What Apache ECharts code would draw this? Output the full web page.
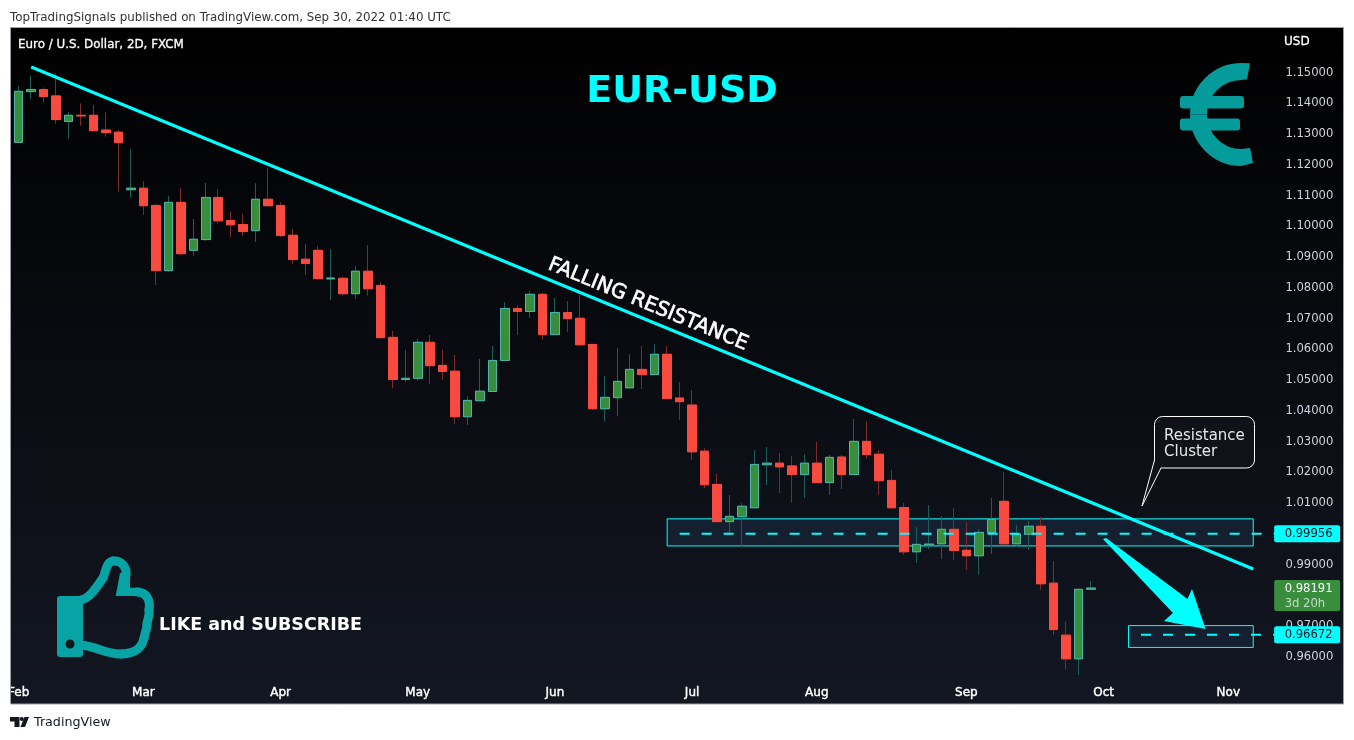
<!DOCTYPE html>
<html><head><meta charset="utf-8">
<style>html,body{margin:0;padding:0;background:#fff}#c{width:1354px;height:740px}</style>
<script src="https://cdn.jsdelivr.net/npm/echarts@6/dist/echarts.min.js"></script>
</head><body><div id="c"></div>
<script>
const categories = [
'Feb','Feb 3','Feb 7','Feb 9','Feb 11','Feb 15','Feb 17','Feb 21','Feb 23','Feb 25',
'Mar','Mar 3','Mar 7','Mar 9','Mar 11','Mar 15','Mar 17','Mar 21','Mar 23','Mar 25','Mar 29',
'Apr','Apr 5','Apr 7','Apr 11','Apr 13','Apr 15','Apr 19','Apr 21','Apr 25','Apr 27','Apr 29',
'May','May 5','May 9','May 11','May 13','May 17','May 19','May 23','May 25','May 27','May 31',
'Jun','Jun 6','Jun 8','Jun 10','Jun 14','Jun 16','Jun 20','Jun 22','Jun 24','Jun 28','Jun 30',
'Jul','Jul 6','Jul 8','Jul 12','Jul 14','Jul 18','Jul 20','Jul 22','Jul 26','Jul 28',
'Aug','Aug 3','Aug 5','Aug 9','Aug 11','Aug 15','Aug 17','Aug 19','Aug 23','Aug 25','Aug 29','Aug 31',
'Sep','Sep 6','Sep 8','Sep 12','Sep 14','Sep 16','Sep 20','Sep 22','Sep 26','Sep 28','Sep 30',
'Oct','Oct 5','Oct 7','Oct 11','Oct 13','Oct 17','Oct 19','Oct 21','Oct 25','Oct 27',
'Nov','Nov 3','Nov 7','Nov 9','Nov 11'];
const opens = [1.1268,1.1433,1.1440,1.1419,1.1336,1.1356,1.1356,1.1308,1.1301,1.1114,
1.1119,1.1063,1.0851,1.1073,1.0917,1.0952,1.1089,1.1014,1.1001,1.0981,
1.1083,1.1063,1.0966,1.0888,1.0917,1.0824,1.0826,1.0776,1.0849,1.0803,
1.0634,1.0497,1.0501,1.0618,1.0543,1.0524,1.0376,1.0428,1.0458,1.0559,
1.0728,1.0718,1.0774,1.0643,1.0715,1.0696,1.0611,1.0402,1.0438,1.0470,
1.0530,1.0513,1.0579,1.0437,1.0414,1.0264,1.0156,1.0035,1.0051,1.0080,
1.0220,1.0225,1.0216,1.0188,1.0225,1.0162,1.0245,1.0188,1.0296,1.0254,
1.0169,1.0081,0.9937,0.9959,0.9963,1.0010,0.9942,0.9924,1.0000,1.0101,
0.9963,0.9994,1.0020,0.9835,0.9666,0.9589,0.9815];
const closes = [1.1434,1.1440,1.1417,1.1342,1.1356,1.1354,1.1306,1.1300,1.1267,1.1119,
1.1062,1.0851,1.1073,1.0906,1.0953,1.1089,1.1013,1.1000,1.0978,1.1083,
1.1062,1.0965,1.0887,1.0874,1.0825,1.0827,1.0776,1.0849,1.0792,1.0633,
1.0497,1.0501,1.0618,1.0542,1.0523,1.0376,1.0429,1.0459,1.0559,1.0728,
1.0718,1.0774,1.0643,1.0715,1.0695,1.0610,1.0402,1.0439,1.0491,1.0530,
1.0513,1.0579,1.0435,1.0425,1.0262,1.0155,1.0035,1.0052,1.0085,1.0221,
1.0225,1.0213,1.0188,1.0225,1.0162,1.0244,1.0188,1.0296,1.0253,1.0168,
1.0080,0.9937,0.9961,0.9962,1.0010,0.9941,0.9924,1.0000,1.0042,0.9963,
0.9995,1.0020,0.9833,0.9684,0.9589,0.9815,0.98191];
const lows = [1.1268,1.1409,1.1397,1.1328,1.1280,1.1321,1.1306,1.1287,1.1108,1.1088,
1.1032,1.0804,1.0848,1.0902,1.0899,1.0948,1.1003,1.0960,1.0964,1.0944,
1.1062,1.0960,1.0873,1.0837,1.0822,1.0756,1.0770,1.0759,1.0770,1.0633,
1.0469,1.0489,1.0493,1.0482,1.0495,1.0352,1.0349,1.0428,1.0458,1.0559,
1.0642,1.0697,1.0626,1.0643,1.0652,1.0610,1.0398,1.0360,1.0378,1.0470,
1.0466,1.0513,1.0435,1.0365,1.0235,1.0144,1.0035,0.9997,0.9954,1.0080,
1.0154,1.0128,1.0096,1.0112,1.0162,1.0122,1.0141,1.0188,1.0239,1.0122,
1.0080,0.9927,0.9901,0.9946,0.9913,0.9910,0.9878,0.9861,0.9930,0.9963,
0.9956,0.9943,0.9813,0.9666,0.9553,0.9536,0.9815];
const highs = [1.1451,1.1484,1.1447,1.1492,1.1367,1.1395,1.1390,1.1367,1.1308,1.1245,
1.1142,1.1067,1.1094,1.1120,1.1019,1.1136,1.1116,1.1044,1.1035,1.1135,
1.1186,1.1073,1.0986,1.0938,1.0931,1.0921,1.0831,1.0866,1.0934,1.0814,
1.0655,1.0593,1.0629,1.0642,1.0593,1.0577,1.0443,1.0564,1.0606,1.0749,
1.0739,1.0785,1.0779,1.0762,1.0752,1.0772,1.0611,1.0508,1.0600,1.0580,
1.0606,1.0612,1.0606,1.0489,1.0463,1.0274,1.0190,1.0122,1.0095,1.0268,
1.0278,1.0258,1.0248,1.0255,1.0294,1.0252,1.0252,1.0369,1.0362,1.0268,
1.0203,1.0096,1.0018,1.0089,1.0053,1.0079,1.0034,1.0011,1.0112,1.0196,
1.0024,1.0037,1.0050,0.9907,0.9709,0.9815,0.9842];
const yTicks = [1.15,1.14,1.13,1.12,1.11,1.10,1.09,1.08,1.07,1.06,1.05,1.04,1.03,1.02,1.01,1.00,0.99,0.98,0.97,0.96];
const trendLine = [[1,1.1513],[99,0.9881]];
const zoneUpper = [52,99,1.0044,0.9956];
const zoneLower = [89,99,0.9697,0.9626];
const levelUpper = 0.99956, levelLower = 0.96672, lastPrice = 0.98191;

const wickData = opens.map((o,i)=>[o,closes[i],lows[i],highs[i]]);
const bodyData = opens.map((o,i)=>[o,closes[i],Math.min(o,closes[i]),Math.max(o,closes[i])]);
const CY='#00ffff', TEAL='#07a3a5', EURO='#049b9a';
const sans='"DejaVu Sans",sans-serif';

function zoneSeries(z){return {type:'line',data:[],silent:true,z:1,
  markArea:{silent:true,itemStyle:{color:'#141f30',opacity:1,borderColor:CY,borderWidth:1},
    data:[[{xAxis:categories[z[0]],yAxis:z[2]},{xAxis:categories[z[1]],yAxis:z[3]}]]}};}
function levelSeries(v,fromIdx){return {type:'line',silent:true,z:6,symbol:'none',
  data:[[fromIdx,v],[101,v]],lineStyle:{color:CY,width:2,type:[10,12]},
  endLabel:{show:true,formatter:()=>v.toFixed(5),color:'#0c1320',backgroundColor:CY,fontFamily:sans,fontSize:11.6,
    padding:[3,7.5,2,10.5],distance:-4,borderRadius:2}};}
function curves(segs,color,width,cap){return segs.map(s=>({type:'bezierCurve',z:20,
  shape:{x1:s[0],y1:s[1],cpx1:s[2],cpy1:s[3],cpx2:s[4],cpy2:s[5],x2:s[6],y2:s[7]},
  style:{fill:'none',stroke:color,lineWidth:width,lineCap:cap||'round'}}));}

const option={
 animation:false,
 backgroundColor:'#ffffff',
 grid:{left:12.5,top:28,width:1271.9,height:676},
 xAxis:{type:'category',data:categories,axisLine:{show:false},axisTick:{show:false},splitLine:{show:false},
   axisLabel:{inside:true,margin:5,interval:0,color:'#ffffff',fontFamily:sans,fontSize:12,textBorderColor:'#ffffff',textBorderWidth:0.4,
     formatter:v=>v.length===3?v:''}},
 yAxis:{type:'value',position:'right',min:0.94421,max:1.16398,axisLine:{show:false},axisTick:{show:false},splitLine:{show:false},
   axisLabel:{customValues:yTicks,margin:1,formatter:v=>'{a|'+v.toFixed(5)+'}',
     rich:{a:{color:'#d1d4dc',fontFamily:sans,fontSize:11.6,padding:[3,0,0,0]}}}},
 series:[
  zoneSeries(zoneUpper),zoneSeries(zoneLower),
  {type:'candlestick',z:2,silent:true,barWidth:9,data:wickData,
   itemStyle:{color:'#1b5e5a',color0:'#7d2a2a',borderColor:'#1b5e5a',borderColor0:'#7d2a2a',borderWidth:1}},
  {type:'candlestick',z:3,silent:true,barWidth:9,data:bodyData,
   itemStyle:{color:'#388e3c',color0:'#f84a3e',borderColor:'#4db6ac',borderColor0:'#f84a3e',borderWidth:1}},
  levelSeries(levelUpper,53),levelSeries(levelLower,90),
  {type:'line',silent:true,z:7,symbol:'none',data:trendLine,lineStyle:{color:CY,width:3}},
  {type:'line',silent:true,z:6,symbol:'none',data:[[86,lastPrice],[101,lastPrice]],lineStyle:{opacity:0},
   endLabel:{show:true,distance:-4,offset:[0,7.5],backgroundColor:'#388e3c',borderRadius:2,padding:[1,7.5,0,10.5],fontFamily:sans,fontSize:11.6,lineHeight:15,
     formatter:()=>'{a|'+lastPrice.toFixed(5)+'}\n{b|3d 20h}',
     rich:{a:{color:'#ffffff',fontFamily:sans,fontSize:11.6,lineHeight:15},b:{color:'#c5dcc6',fontFamily:sans,fontSize:11.6,lineHeight:15}}}}
 ],
 graphic:{elements:[
  {type:'rect',z:-5,shape:{x:10.5,y:27.5,width:1333,height:676.5},
   style:{fill:new echarts.graphic.LinearGradient(0,0,0,1,[{offset:0,color:'#000000'},{offset:1,color:'#131722'}])}},
  {type:'rect',z:50,shape:{x:0,y:680,width:10,height:24},style:{fill:'#ffffff'}},
  {type:'rect',z:51,shape:{x:10.5,y:27.5,width:1333,height:676.5},style:{fill:'none',stroke:'#9a9ea8',lineWidth:1}},
  {type:'text',z:60,x:10,y:18,style:{text:'TopTradingSignals published on TradingView.com, Sep 30, 2022 01:40 UTC',fontFamily:sans,fontSize:11.85,fill:'#333333',textVerticalAlign:'middle'}},
  {type:'text',z:60,x:18,y:45,style:{text:'Euro / U.S. Dollar, 2D, FXCM',fontFamily:sans,fontSize:11.9,fill:'#ffffff',stroke:'#ffffff',lineWidth:0.3,textVerticalAlign:'middle'}},
  {type:'text',z:60,x:1284,y:42,style:{text:'USD',fontFamily:sans,fontSize:12,fill:'#ffffff',stroke:'#ffffff',lineWidth:0.3,textVerticalAlign:'middle'}},
  {type:'text',z:60,x:682,y:92.5,style:{text:'EUR-USD',fontFamily:sans,fontWeight:'bold',fontSize:38,fill:CY,textAlign:'center',textVerticalAlign:'middle'}},
  {type:'text',z:60,x:648,y:304.5,rotation:-0.39,style:{text:'FALLING RESISTANCE',fontFamily:sans,fontSize:20.2,fill:'#ffffff',stroke:'#ffffff',lineWidth:0.6,textAlign:'center',textVerticalAlign:'middle'}},
  {type:'text',z:60,x:159,y:625,style:{text:'LIKE and SUBSCRIBE',fontFamily:sans,fontWeight:'bold',fontSize:17.5,fill:'#ffffff',textVerticalAlign:'middle'}},
  // callout
  {type:'rect',z:20,shape:{x:1154.5,y:416.5,width:100,height:51.5,r:8},style:{fill:'#0f1219',stroke:'#ffffff',lineWidth:1}},
  {type:'polygon',z:21,shape:{points:[[1155,459],[1143,505],[1161,467.4],[1158,462]]},style:{fill:'#0f1219'}},
  {type:'polyline',z:22,shape:{points:[[1154.5,460],[1142,506],[1161,468]]},style:{fill:'none',stroke:'#ffffff',lineWidth:1}},
  {type:'text',z:23,x:1164,y:436,style:{text:'Resistance',fontFamily:sans,fontSize:15,fill:'#e8e8e8',textVerticalAlign:'middle'}},
  {type:'text',z:23,x:1164,y:452,style:{text:'Cluster',fontFamily:sans,fontSize:15,fill:'#e8e8e8',textVerticalAlign:'middle'}},
  // arrow
  {type:'polygon',z:20,shape:{points:[[1103,539],[1106,538],[1187.5,599],[1192,589],[1205.5,629],[1164,621],[1173,613]]},style:{fill:CY}},
  // euro
  ...curves([[1241.5,71.5,1217.8,71.5,1198.5,90.8,1198.5,114.5],[1198.5,114.5,1198.5,138.2,1217.8,157.5,1241.5,157.5]],EURO,17,'butt'),
  {type:'polygon',z:20,shape:{points:[[1241,63],[1250,63.3],[1247,79.3],[1241,80]]},style:{fill:EURO}},
  {type:'polygon',z:20,shape:{points:[[1241,149],[1250,148],[1253,163],[1241,166]]},style:{fill:EURO}},
  {type:'rect',z:20,shape:{x:1180,y:96,width:64,height:12.5,r:3},style:{fill:EURO}},
  {type:'rect',z:20,shape:{x:1180,y:118.5,width:60,height:12,r:3},style:{fill:EURO}},
  // thumb
  {type:'rect',z:20,shape:{x:57,y:596,width:26,height:61,r:3},style:{fill:TEAL}},
  {type:'circle',z:21,shape:{cx:70,cy:644,r:4.5},style:{fill:'#12161f'}},
  {type:'polygon',z:20,shape:{points:[[115.7,596],[120,573],[130,573],[130,587.7],[140,587.7],[140,596]]},style:{fill:TEAL}},
  ...curves([[81,600,90,598,96,588,103,578],[103,578,106,572,106,562,113,561],[113,561,122,560,127,568,126,575],
    [137,592,146,592,151,600,149,610],[149,610,150,617,147,620,147,624],
    [147,624,147,630,145,632,144,638],[144,638,142,648,136,653,122,654],[122,654,108,655,95,646,81,645]],TEAL,9),
  // footer
  {type:'polygon',z:60,shape:{points:[[10,717],[19.5,717],[19.5,727],[14.5,727],[14.5,721.5],[10,721.5]]},style:{fill:'#131722'}},
  {type:'polygon',z:60,shape:{points:[[24.5,717],[29,717],[25,727],[20.5,727]]},style:{fill:'#131722'}},
  {type:'circle',z:60,shape:{cx:21.8,cy:719,r:2},style:{fill:'#131722'}},
  {type:'text',z:60,x:34,y:723,style:{text:'TradingView',fontFamily:sans,fontSize:12.7,fill:'#131722',textVerticalAlign:'middle'}}
 ]}
};
echarts.init(document.getElementById('c'),null,{renderer:'canvas'}).setOption(option);
</script></body></html>
